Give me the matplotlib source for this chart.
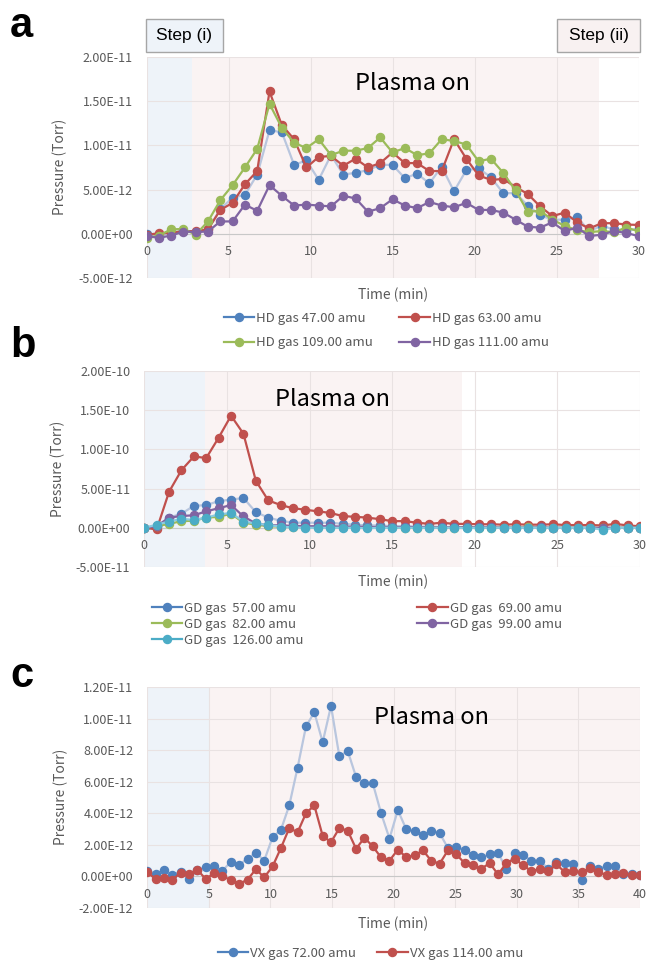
# ============================================================
# plot.py
# Plasma decomposition of agent simulants: RGA pressure traces
# ============================================================

import numpy as np
import matplotlib
matplotlib.use("Agg")
import matplotlib.pyplot as plt
from matplotlib.lines import Line2D
from matplotlib.patches import Rectangle

plt.rcParams["font.family"] = ["Noto Sans CJK KR", "DejaVu Sans"]

# ------------------------------------------------------------
# 1. DATA
# ------------------------------------------------------------

# panel a : HD gas, values in 1E-12 Torr, one point every 0.75 min
time_a = np.arange(41) * 0.75
hd_47 = [0, -0.3, 0.2, 0.3, 0.2, 0.5, 2.8, 4.1, 4.4, 6.7,
         11.7, 11.5, 7.8, 8.3, 6.1, 8.9, 6.7, 6.9, 7.2, 7.8,
         7.8, 6.3, 6.8, 5.7, 7.6, 4.8, 7.2, 7.4, 6.4, 4.6,
         4.6, 3.2, 2.1, 1.6, 1.6, 1.9, 0.3, 0.9, 0.5, 0.3,
         0.6]
hd_63 = [-0.1, 0.05, 0.1, 0.3, 0.3, 0.5, 2.7, 3.5, 5.6, 7.1,
         16.1, 12.3, 10.7, 7.5, 8.7, 8.8, 7.7, 8.5, 7.5, 8.0,
         9.2, 8.0, 8.0, 7.1, 7.1, 10.7, 8.5, 6.6, 6.1, 6.2,
         5.3, 4.5, 3.1, 2.0, 2.4, 1.3, 0.6, 1.2, 1.2, 1.05,
         1.0]
hd_109 = [-0.5, -0.2, 0.5, 0.55, -0.1, 1.4, 3.8, 5.5, 7.5, 9.6,
          14.7, 12.0, 10.3, 9.7, 10.7, 8.9, 9.4, 9.4, 9.7, 10.9,
          9.2, 9.7, 8.9, 9.1, 10.7, 10.5, 10.1, 8.2, 8.5, 6.9,
          4.9, 2.5, 2.6, 1.6, 0.9, 0.4, 0.2, 0.3, 0.2, 0.7,
          0.3]
hd_111 = [-0.26, -0.45, -0.2, 0.26, 0.2, 0.26, 1.4, 1.4, 3.3, 2.6,
          5.5, 4.3, 3.2, 3.3, 3.2, 3.1, 4.3, 4.0, 2.5, 2.9,
          3.9, 3.2, 2.9, 3.6, 3.2, 3.0, 3.5, 2.7, 2.7, 2.4,
          1.6, 0.8, 0.7, 1.3, 0.3, 0.7, -0.26, -0.1, 0.3, 0.1,
          -0.26]
labels_a = ["HD gas 47.00 amu", "HD gas 63.00 amu",
            "HD gas 109.00 amu", "HD gas 111.00 amu"]
yticks_a = [-5e-12, 0, 5e-12, 1e-11, 1.5e-11, 2e-11]
ytick_labels_a = ["-5.00E-12", "0.00E+00", "5.00E-12",
                  "1.00E-11", "1.50E-11", "2.00E-11"]

# panel b : GD gas, values in 1E-11 Torr
time_b = np.arange(41) * 0.75
gd_57 = [0, 0.2, 1.3, 1.8, 2.8, 2.9, 3.4, 3.6, 3.8, 2.0,
         1.3, 0.9, 0.65, 0.65, 0.65, 0.65, 0.5, 0.4, 0.3, 0.3,
         0.2, 0.2, 0.15, 0.15, 0.1, 0.1, 0.1, 0.1, 0.05, 0.05,
         0.05, 0.05, 0, 0, 0, 0, 0, 0, 0, 0,
         0]
gd_69 = [0, -0.2, 4.6, 7.35, 9.1, 8.9, 11.5, 14.3, 12.0, 6.0,
         3.5, 2.9, 2.5, 2.3, 2.1, 1.9, 1.5, 1.4, 1.3, 1.1,
         0.85, 0.85, 0.65, 0.5, 0.65, 0.5, 0.5, 0.45, 0.45, 0.4,
         0.45, 0.4, 0.4, 0.45, 0.35, 0.35, 0.35, 0.3, 0.5, 0.3,
         0.2]
gd_82 = [0, 0.2, 0.5, 0.85, 0.9, 1.3, 1.4, 1.8, 0.65, 0.4,
         0.2, 0.15, 0.1, 0.1, 0.1, 0.05, 0.05, 0.05, 0.05, 0.05,
         0.05, 0, 0, 0.05, 0, 0, 0.05, 0, 0, 0,
         0, 0.05, 0, 0, 0, 0, 0, -0.05, 0, 0,
         0]
gd_99 = [0, 0.2, 1.3, 1.5, 1.6, 2.1, 2.5, 2.9, 1.45, 0.55,
         0.35, 0.3, 0.25, 0.2, 0.2, 0.2, 0.15, 0.15, 0.1, 0.1,
         0.1, 0.1, 0.1, 0.05, 0.05, 0.05, 0.05, 0.05, 0.05, 0,
         0, 0, 0.05, 0, 0, 0, 0, 0, 0, 0,
         0]
gd_126 = [0, 0.4, 0.8, 1.15, 1.0, 1.3, 1.7, 1.9, 0.8, 0.55,
          0.35, 0.15, 0.05, 0, 0, 0, 0, 0, -0.05, 0,
          0, 0, 0, 0, 0, 0, -0.05, 0, 0, 0,
          0, 0, 0, 0, 0, 0, 0, -0.25, 0, 0,
          0]
labels_b = ["GD gas  57.00 amu", "GD gas  69.00 amu", "GD gas  82.00 amu",
            "GD gas  99.00 amu", "GD gas  126.00 amu"]
yticks_b = [-5e-11, 0, 5e-11, 1e-10, 1.5e-10, 2e-10]
ytick_labels_b = ["-5.00E-11", "0.00E+00", "5.00E-11",
                  "1.00E-10", "1.50E-10", "2.00E-10"]

# panel c : VX gas, values in 1E-12 Torr, 60 points over 40 min
time_c = np.linspace(0, 40, 60)
vx_72 = [0.36, 0.15, 0.38, 0.1, 0.3, -0.15, 0.42, 0.57, 0.63, 0.36,
         0.93, 0.74, 1.12, 1.5, 1.0, 2.49, 2.95, 4.5, 6.9, 9.5,
         10.4, 8.5, 10.8, 7.6, 7.95, 6.3, 5.9, 5.9, 4.0, 2.4,
         4.2, 3.0, 2.85, 2.6, 2.9, 2.75, 1.8, 1.85, 1.7, 1.33,
         1.2, 1.4, 1.5, 0.46, 1.5, 1.37, 1.0, 1.0, 0.5, 0.9,
         0.87, 0.8, -0.2, 0.67, 0.5, 0.65, 0.67, 0.13, 0.17, 0.1]
vx_114 = [0.27, -0.17, -0.13, -0.21, 0.23, 0.15, 0.42, -0.17, 0.21, 0.0,
          -0.21, -0.46, -0.21, 0.46, -0.06, 0.63, 1.8, 3.06, 2.8, 4.0,
          4.5, 2.57, 2.17, 3.06, 2.9, 1.75, 2.45, 1.9, 1.2, 1.0,
          1.7, 1.22, 1.33, 1.65, 1.0, 0.8, 1.65, 1.4, 0.84, 0.7,
          0.49, 0.84, 0.13, 0.84, 1.12, 0.7, 0.34, 0.46, 0.32, 0.76,
          0.27, 0.34, 0.25, 0.53, 0.27, 0.1, 0.13, 0.21, 0.06, 0.1]
labels_c = ["VX gas 72.00 amu", "VX gas 114.00 amu"]
yticks_c = [-2e-12, 0, 2e-12, 4e-12, 6e-12, 8e-12, 1e-11, 1.2e-11]
ytick_labels_c = ["-2.00E-12", "0.00E+00", "2.00E-12", "4.00E-12",
                  "6.00E-12", "8.00E-12", "1.00E-11", "1.20E-11"]

# ------------------------------------------------------------
# 2. STYLE
# ------------------------------------------------------------

W, H = 648, 963
BLUE, RED, GREEN, PURPLE, AQUA = "#4f81bd", "#c0504d", "#9bbb59", "#8064a2", "#4bacc6"
BLUE_LINE = "#b9c6de"
SHADE_BLUE = "#eef3f9"
SHADE_PINK = "#faf3f3"
GRID = "#e9e2e2"
TICK = "#595959"
MS = 5.8


def fx(px):
    return px / W


def fy(py):
    return 1 - py / H


def make_axes(x0, x1, y_top, y_bot):
    return fig.add_axes([fx(x0), fy(y_bot), (x1 - x0) / W, (y_bot - y_top) / H])


def style_axes(ax, xmax, yticks, ylabels, blue_end, pink_end):
    ax.set_facecolor("white")
    ax.axvspan(0, blue_end, color=SHADE_BLUE, lw=0, zorder=0)
    ax.axvspan(blue_end, pink_end, color=SHADE_PINK, lw=0, zorder=0)
    ax.set_xlim(0, xmax)
    ax.set_ylim(yticks[0], yticks[-1])
    ax.set_xticks(np.arange(0, xmax + 1, 5))
    ax.set_yticks(yticks)
    ax.set_yticklabels(ylabels)
    ax.grid(True, color=GRID, lw=0.8, zorder=1)
    ax.set_axisbelow(True)
    for side in ["top", "right", "left"]:
        ax.spines[side].set_visible(False)
    ax.spines["bottom"].set_position(("data", 0))
    ax.spines["bottom"].set_color("#c8c8c8")
    ax.spines["bottom"].set_zorder(2)
    ax.tick_params(axis="both", length=0, labelcolor=TICK, labelsize=9)
    ax.tick_params(axis="x", pad=8)
    ax.tick_params(axis="y", pad=10)


def series(ax, t, vals, scale, color, line=None):
    ax.plot(t, np.array(vals) * scale, color=line or color, lw=1.6,
            marker="o", ms=MS, mfc=color, mec=color, zorder=3)


def handle(color):
    return Line2D([], [], color=color, lw=1.6, marker="o", ms=MS)


fig = plt.figure(figsize=(W / 100, H / 100), dpi=100)

# ------------------------------------------------------------
# 3. PANEL a
# ------------------------------------------------------------

ax_a = make_axes(146.5, 638.5, 57, 278)
style_axes(ax_a, 30, yticks_a, ytick_labels_a, 2.8, 27.6)
series(ax_a, time_a, hd_47, 1e-12, BLUE, BLUE_LINE)
series(ax_a, time_a, hd_63, 1e-12, RED)
series(ax_a, time_a, hd_109, 1e-12, GREEN)
series(ax_a, time_a, hd_111, 1e-12, PURPLE)

cols_a = [BLUE, RED, GREEN, PURPLE]
order_a = [0, 2, 1, 3]
ax_a.legend([handle(cols_a[i]) for i in order_a], [labels_a[i] for i in order_a],
            ncol=2, loc="upper left", bbox_to_anchor=(fx(224), fy(312)),
            bbox_transform=fig.transFigure, frameon=False, fontsize=9.5,
            borderpad=0, borderaxespad=0, handlelength=2.3, handletextpad=0.15,
            columnspacing=2.0, labelspacing=0.85, labelcolor=TICK)

fig.text(fx(412), fy(83), "Plasma on", fontsize=17, ha="center", va="center")
fig.text(fx(393), fy(295), "Time (min)", fontsize=10, color=TICK, ha="center", va="center")
fig.text(fx(60), fy(167), "Pressure (Torr)", fontsize=10, color=TICK,
         rotation=90, ha="center", va="center")

# step boxes above panel a
fig.add_artist(Rectangle((fx(146), fy(52)), 77 / W, 33 / H, transform=fig.transFigure,
                         facecolor="#eef3f9", edgecolor="#a6a6a6", lw=1))
fig.add_artist(Rectangle((fx(557), fy(52)), 83 / W, 33 / H, transform=fig.transFigure,
                         facecolor="#f8f1f1", edgecolor="#a6a6a6", lw=1))
fig.text(fx(184.5), fy(35.5), "Step (i)", family="Liberation Sans", fontsize=12.5,
         ha="center", va="center")
fig.text(fx(598.5), fy(35.5), "Step (ii)", family="Liberation Sans", fontsize=12.5,
         ha="center", va="center")

# ------------------------------------------------------------
# 4. PANEL b
# ------------------------------------------------------------

ax_b = make_axes(144.3, 640, 371, 567)
style_axes(ax_b, 30, yticks_b, ytick_labels_b, 3.7, 19.2)
series(ax_b, time_b, gd_57, 1e-11, BLUE, BLUE_LINE)
series(ax_b, time_b, gd_69, 1e-11, RED)
series(ax_b, time_b, gd_82, 1e-11, GREEN)
series(ax_b, time_b, gd_99, 1e-11, PURPLE)
series(ax_b, time_b, gd_126, 1e-11, AQUA, "#8ccbe0")

cols_b = [BLUE, RED, GREEN, PURPLE, AQUA]
order_b = [0, 2, 4, 1, 3]
ax_b.legend([handle(cols_b[i]) for i in order_b], [labels_b[i] for i in order_b],
            ncol=2, loc="upper left", bbox_to_anchor=(fx(152), fy(602)),
            bbox_transform=fig.transFigure, frameon=False, fontsize=9.5,
            borderpad=0, borderaxespad=0, handlelength=2.3, handletextpad=0.15,
            columnspacing=8.6, labelspacing=0.22, labelcolor=TICK)

fig.text(fx(333), fy(399), "Plasma on", fontsize=17, ha="center", va="center")
fig.text(fx(393), fy(582), "Time (min)", fontsize=10, color=TICK, ha="center", va="center")
fig.text(fx(58), fy(469), "Pressure (Torr)", fontsize=10, color=TICK,
         rotation=90, ha="center", va="center")

# ------------------------------------------------------------
# 5. PANEL c
# ------------------------------------------------------------

ax_c = make_axes(147.3, 640, 687, 908)
style_axes(ax_c, 40, yticks_c, ytick_labels_c, 5.0, 40)
series(ax_c, time_c, vx_72, 1e-12, BLUE, BLUE_LINE)
series(ax_c, time_c, vx_114, 1e-12, RED)

ax_c.legend([handle(BLUE), handle(RED)], labels_c,
            ncol=2, loc="upper left", bbox_to_anchor=(fx(218), fy(947)),
            bbox_transform=fig.transFigure, frameon=False, fontsize=9.5,
            borderpad=0, borderaxespad=0, handlelength=2.3, handletextpad=0.15,
            columnspacing=1.6, labelcolor=TICK)

fig.text(fx(431), fy(717), "Plasma on", fontsize=17, ha="center", va="center")
fig.text(fx(393), fy(924), "Time (min)", fontsize=10, color=TICK, ha="center", va="center")
fig.text(fx(61), fy(797), "Pressure (Torr)", fontsize=10, color=TICK,
         rotation=90, ha="center", va="center")

# ------------------------------------------------------------
# 6. PANEL LETTERS + SAVE
# ------------------------------------------------------------

for letter, py in [("a", 26), ("b", 346), ("c", 676)]:
    fig.text(fx(10), fy(py), letter, family="Liberation Sans", fontweight="bold",
             fontsize=30, ha="left", va="center")

fig.savefig("out.png", dpi=100)
print("Saved out.png")
